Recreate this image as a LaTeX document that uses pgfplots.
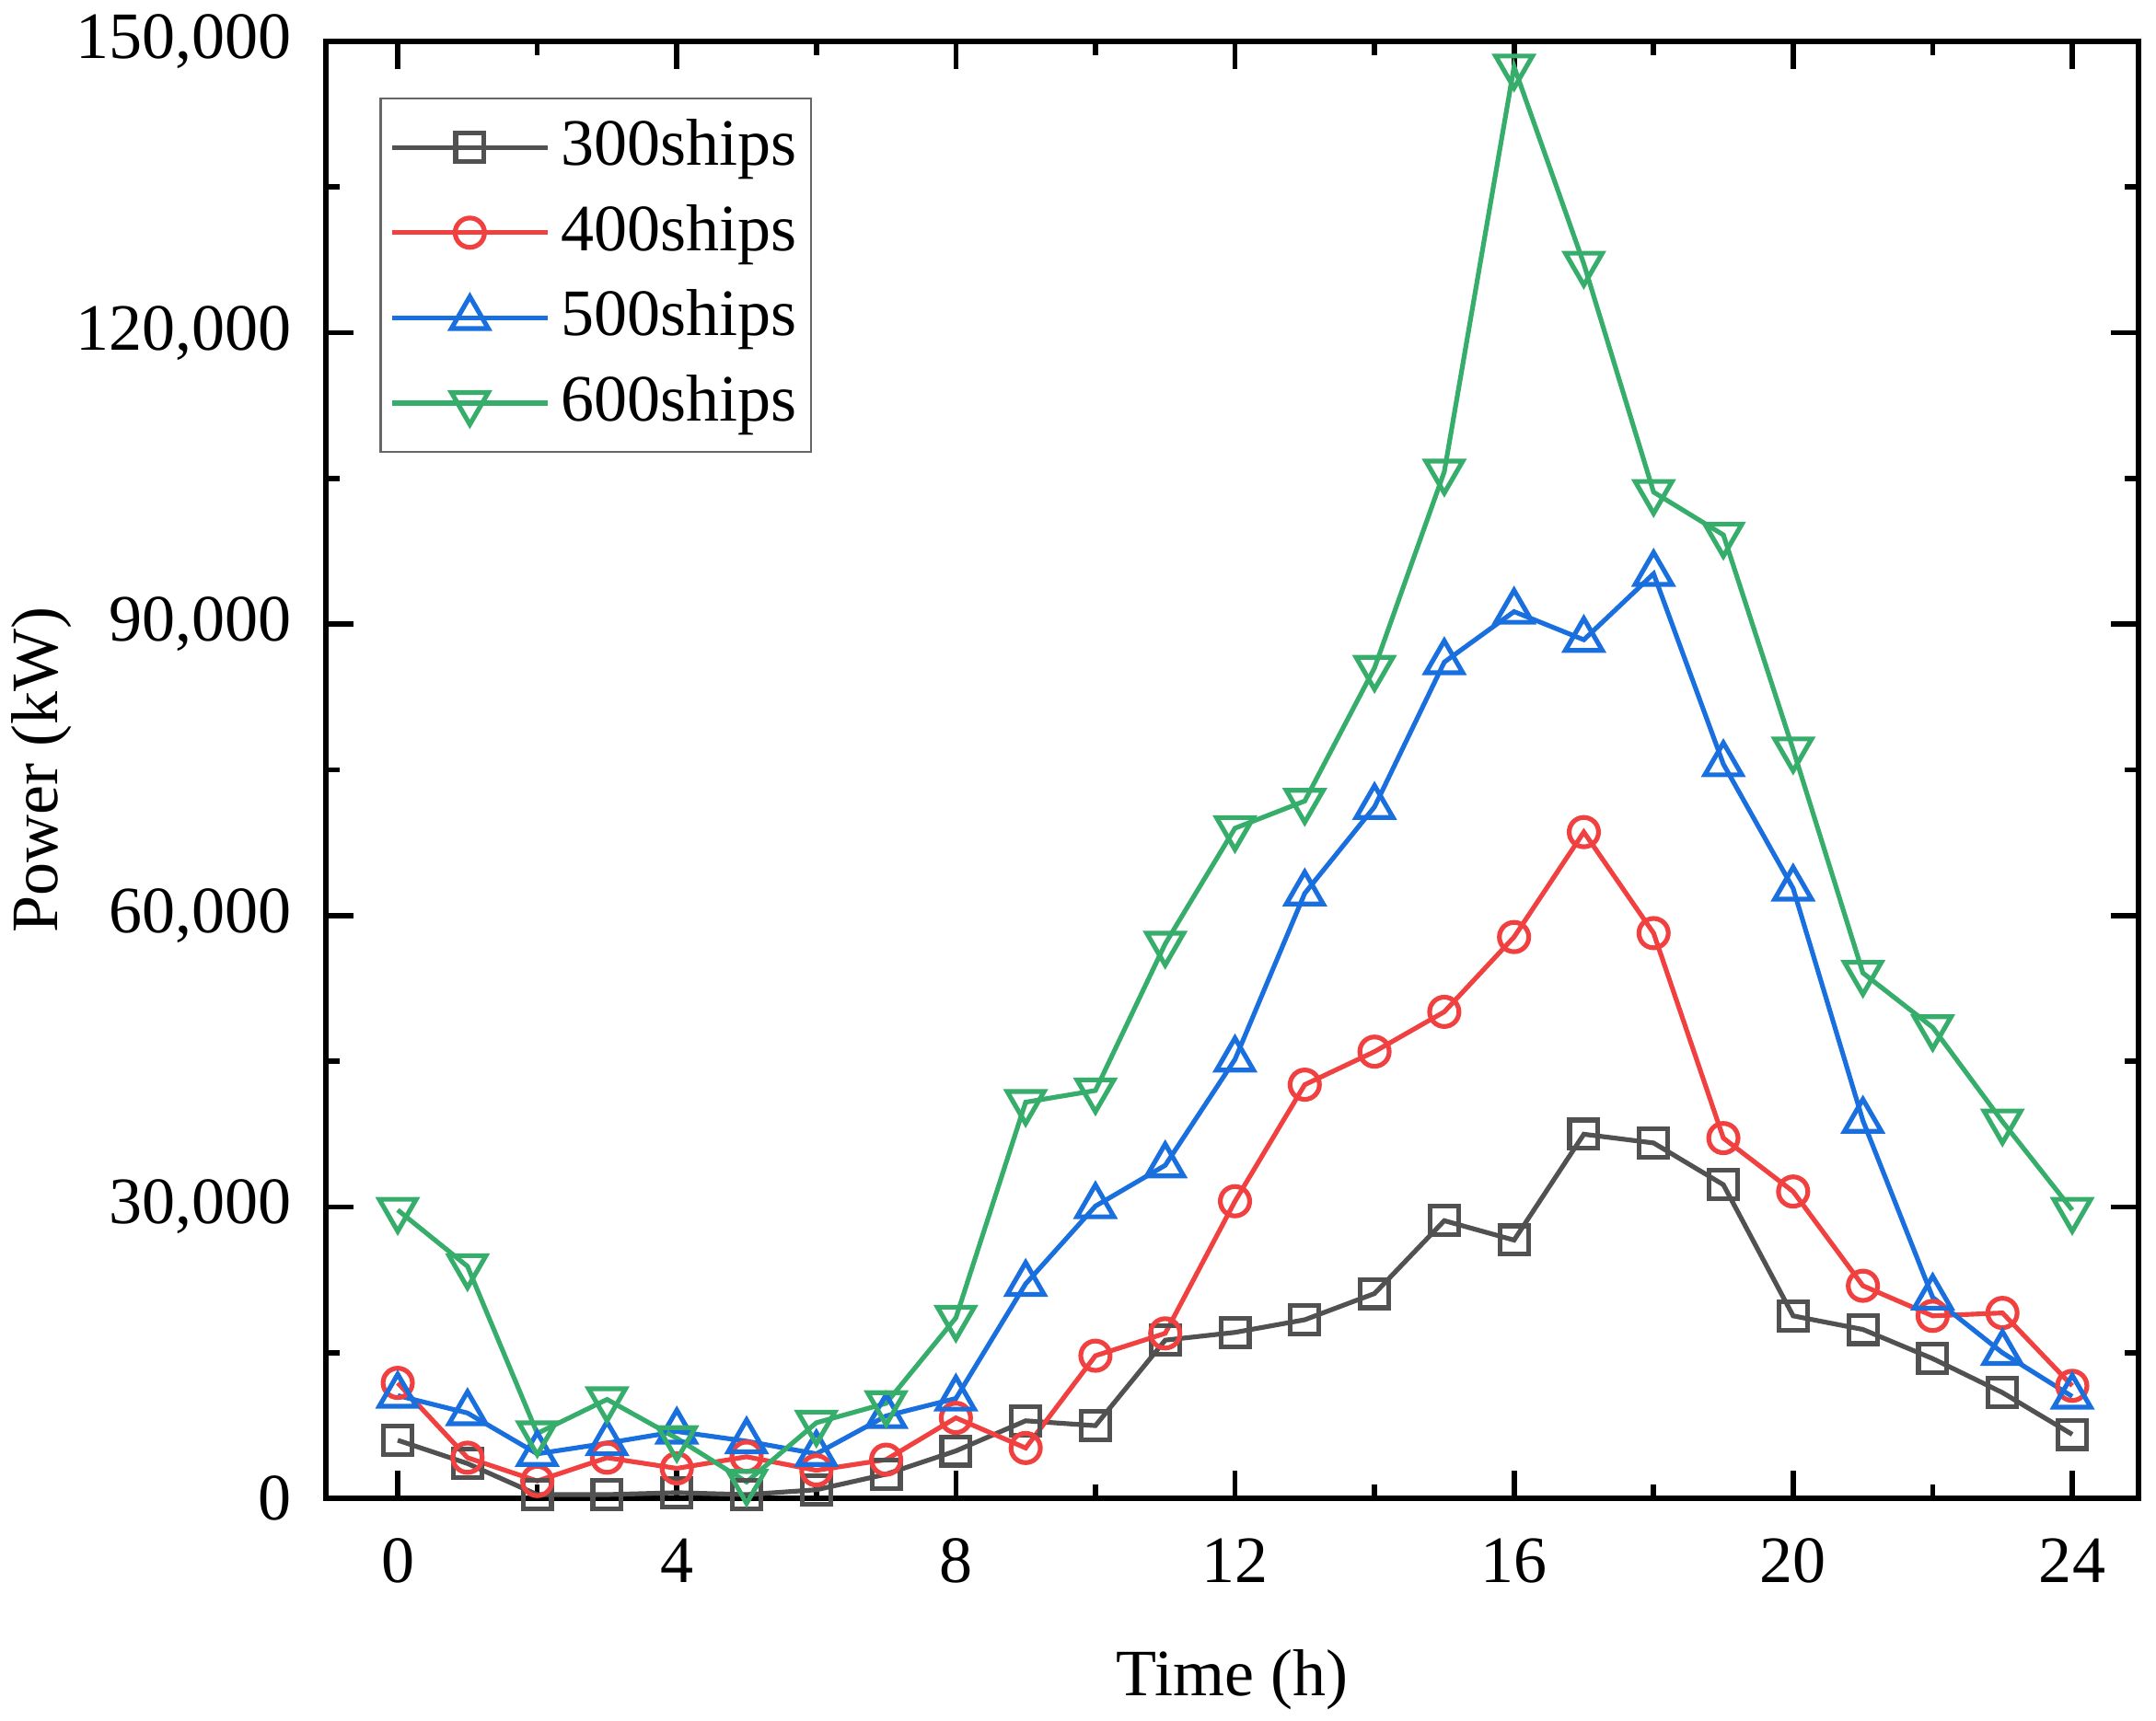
\documentclass[border=0pt]{standalone}
\usepackage{fontspec}
\setmainfont{Liberation Serif}
\usepackage{pgfplots}
\pgfplotsset{compat=1.18}
\usetikzlibrary{calc}
\definecolor{cK}{HTML}{515151}
\definecolor{cR}{HTML}{F14040}
\definecolor{cB}{HTML}{1A6FDF}
\definecolor{cG}{HTML}{37AD6B}
\begin{document}
\fontsize{14}{16.8}\selectfont
\begin{tikzpicture}
\begin{axis}[
  scale only axis,
  width=13.45cm, height=10.815cm,
  xmin=-1.03, xmax=24.95,
  ymin=0, ymax=150000,
  xtick={0,4,8,12,16,20,24},
  xticklabels={0,4,8,12,16,20,24},
  minor x tick num=1,
  ytick={0,30000,60000,90000,120000,150000},
  yticklabels={0,{30,000},{60,000},{90,000},{120,000},{150,000}},
  minor y tick num=1,
  tick pos=both,
  tick align=inside,
  major tick length=0.205cm,
  minor tick length=0.105cm,
  every tick/.style={line width=1.1pt, black},
  axis line style={line width=1.1pt},
  scaled ticks=false,
  yticklabel style={inner sep=0pt, anchor=east, xshift=-0.25cm},
  xticklabel style={inner sep=0pt, anchor=north, yshift=-0.29cm},
  xlabel={Time (h)},
  ylabel={Power (kW)},
  xlabel style={at={(axis description cs:0.5,0)}, anchor=base, inner sep=0pt, yshift=-1.462cm},
  ylabel style={at={(axis description cs:0,0.5)}, anchor=center, inner sep=0pt, yshift=2.11cm},
  legend cell align=left,
  legend style={at={(0.0295,0.9615)}, anchor=north west, draw=gray!80!black, line width=0.5pt,
    inner xsep=2pt, inner ysep=3pt, row sep=3.4pt,
    /tikz/every odd column/.append style={column sep=0.05cm},
    nodes={inner sep=1pt, text height=0.72em, text depth=0.18em}},
  legend image code/.code={\draw[mark repeat=2,mark phase=2,#1] plot coordinates {(0cm,0cm) (0.575cm,0cm) (1.15cm,0cm)};},
  every axis plot/.append style={line width=1pt, mark options={solid, line width=1pt, fill=white}},
]
\coordinate (bl) at (rel axis cs:0,0);
\coordinate (tr) at (rel axis cs:1,1);
\addplot[cK, mark=square, mark size=3pt] coordinates {
(0,6000) (1,3600) (2,400) (3,400) (4,600) (5,400) (6,900) (7,2500) (8,4900) (9,8000) (10,7500) (11,16300) (12,17100) (13,18400) (14,21100) (15,28600) (16,26600) (17,37500) (18,36600) (19,32300) (20,18800) (21,17400) (22,14400) (23,10900) (24,6600)};
\addlegendentry{300ships}
\addplot[cR, mark=o, mark size=3.1pt] coordinates {
(0,11900) (1,4200) (2,1800) (3,4200) (4,3100) (5,4300) (6,2900) (7,4000) (8,8300) (9,5200) (10,14700) (11,17000) (12,30600) (13,42600) (14,46000) (15,50100) (16,57800) (17,68600) (18,58200) (19,37100) (20,31600) (21,21900) (22,18800) (23,19100) (24,11600)};
\addlegendentry{400ships}
\addplot[cB, mark=triangle, mark size=4.5pt] coordinates {
(0,10600) (1,8800) (2,4600) (3,5700) (4,6900) (5,5900) (6,4600) (7,8500) (8,10300) (9,22100) (10,30100) (11,34300) (12,45200) (13,62300) (14,71200) (15,86100) (16,91300) (17,88400) (18,95200) (19,75600) (20,62800) (21,38900) (22,20700) (23,15000) (24,10500)};
\addlegendentry{500ships}
\addplot[cG, mark=triangle, mark size=4.5pt, mark options={rotate=180}] coordinates {
(0,29700) (1,23900) (2,6700) (3,10200) (4,6200) (5,1700) (6,7800) (7,9800) (8,18600) (9,40800) (10,42000) (11,57100) (12,69000) (13,71800) (14,85500) (15,105700) (16,147400) (17,127100) (18,103600) (19,99200) (20,77100) (21,54100) (22,48500) (23,38800) (24,29700)};
\addlegendentry{600ships}
\end{axis}
\pgfresetboundingbox
\path (bl) ++(-2.418cm,-1.647cm) rectangle ($(tr)+(0.13cm,0.307cm)$);
\end{tikzpicture}
\end{document}
